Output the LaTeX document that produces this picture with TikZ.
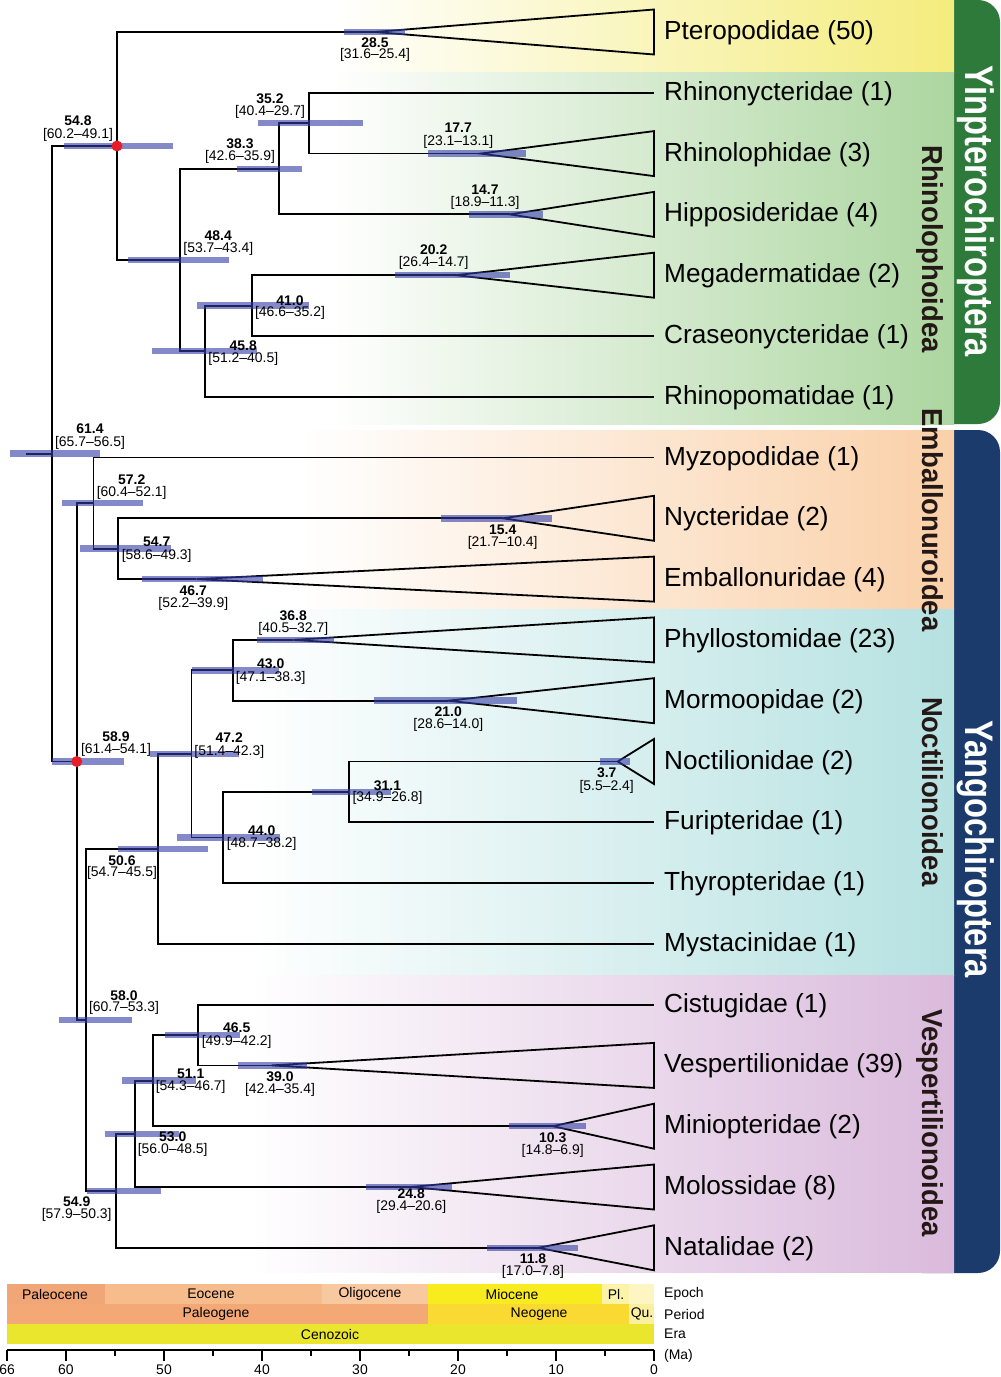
\documentclass[tikz,border=0pt]{standalone}
\usepackage{fontspec}
\setmainfont{Liberation Sans}
\usetikzlibrary{calc}
\definecolor{barblue}{RGB}{50,60,165}
\definecolor{dotred}{RGB}{230,30,40}
\definecolor{bandyellow}{RGB}{244,236,124}
\definecolor{bandgreen}{RGB}{172,214,160}
\definecolor{bandorange}{RGB}{250,208,168}
\definecolor{bandcyan}{RGB}{182,225,225}
\definecolor{bandpink}{RGB}{218,186,220}
\definecolor{tabgreen}{RGB}{45,122,58}
\definecolor{tabblue}{RGB}{27,59,108}
\definecolor{grptext}{RGB}{35,24,21}
\definecolor{cPaleocene}{RGB}{241,166,120}
\definecolor{cEocene}{RGB}{246,188,140}
\definecolor{cOligocene}{RGB}{248,200,160}
\definecolor{cMiocene}{RGB}{249,236,30}
\definecolor{cPliocene}{RGB}{251,243,168}
\definecolor{cPleist}{RGB}{253,246,195}
\definecolor{cPaleogene}{RGB}{244,168,118}
\definecolor{cNeogene}{RGB}{250,218,50}
\definecolor{cQuat}{RGB}{251,240,160}
\definecolor{cCeno}{RGB}{234,230,45}
\tikzset{
  branch/.style={line width=1.8bp, line join=miter},
  hpdbar/.style={line width=6.5bp, draw=barblue, draw opacity=0.6},
  agenum/.style={font=\fontsize{14}{16}\selectfont\bfseries, anchor=base, inner sep=0},
  agerng/.style={font=\fontsize{14}{16}\selectfont, anchor=base, inner sep=0},
  leaf/.style={font=\fontsize{26.3}{30}\selectfont, anchor=base west, inner sep=0},
  grp/.style={font=\fontsize{29}{34}\selectfont\bfseries, text=grptext, rotate=-90, anchor=base, inner sep=0},
  tablab/.style={font=\fontsize{40}{46}\selectfont\bfseries, text=white, rotate=-90, anchor=base, inner sep=0},
  tsl/.style={font=\fontsize{14}{16}\selectfont, inner sep=0},
  tsr/.style={font=\fontsize{14}{16}\selectfont, inner sep=0, anchor=west},
  reddot/.style={circle, fill=dotred, minimum size=11bp, inner sep=0},
  tick/.style={line width=2.5bp}
}
\begin{document}
\begin{tikzpicture}[x=1bp,y=-1bp]
\useasboundingbox (0,0) rectangle (1000,1377);
% side tabs
\fill[tabgreen, rounded corners=22bp] (900,0) rectangle (1000,424);
\fill[tabblue, rounded corners=22bp] (900,430) rectangle (1000,1273);
% coloured bands
\shade[left color=white, right color=bandyellow] (330,0) rectangle (954,72.7);
\shade[left color=white, right color=bandgreen] (330,72.7) rectangle (954,424);
\shade[left color=white, right color=bandorange] (300,430) rectangle (954,609.5);
\shade[left color=white, right color=bandcyan] (250,609.5) rectangle (954,975);
\shade[left color=white, right color=bandpink] (250,975) rectangle (954,1272);

% internal nodes and clade tips
\foreach \n/\a/\y in {root/61.4/453.7, n548/54.8/146, n484/48.4/260, n383/38.3/168.8,
  n352/35.2/123.2, n458/45.8/351.2, n410/41.0/305.6, n589/58.9/761.5, n572/57.2/503.1,
  n547/54.7/548.7, n580/58.0/1019.9, n506/50.6/848.9, n472/47.2/753.9, n430/43.0/670.3,
  n440/44.0/837.5, n311/31.1/791.9, n549/54.9/1190.8, n530/53.0/1133.8, n511/51.1/1080.6,
  n465/46.5/1035,
  pter/28.5/32, rlop/17.7/153.6, hipp/14.7/214.4, mega/20.2/275.2, nyct/15.4/518.3,
  emba/46.7/579.1, phyl/36.8/639.9, morm/21.0/700.7, noct/3.7/761.5, vesp/39.0/1065.4,
  mini/10.3/1126.2, molo/24.8/1187, nata/11.8/1247.8,
  rnyc/0/92.8, cras/0/336, rpom/0/396.7, myzo/0/457.5, furi/0/822.3, thyr/0/883.1,
  myst/0/943.9, cist/0/1004.6}
  \coordinate (\n) at ({654-9.8*\a},\y);
\coordinate (rootstub) at (26,453.7);

% branches
\draw[branch] (rootstub) -- (root);
\foreach \p/\c in {root/n548, root/n589, n548/pter, n548/n484, n484/n383, n484/n458,
  n383/n352, n383/hipp, n352/rnyc, n352/rlop, n458/n410, n458/rpom, n410/mega, n410/cras,
  n589/n572, n589/n580, n572/myzo, n572/n547, n547/nyct, n547/emba, n580/n506, n580/n549,
  n506/n472, n506/myst, n472/n430, n472/n440, n430/phyl, n430/morm, n440/n311, n440/thyr,
  n311/noct, n311/furi, n549/n530, n549/nata, n530/n511, n530/molo, n511/n465, n511/mini,
  n465/cist, n465/vesp}
  \draw[branch] (\p) |- (\c);

% collapsed clades
\foreach \n/\y in {pter/32, rlop/153.6, hipp/214.4, mega/275.2, nyct/518.3, emba/579.1,
  phyl/639.9, morm/700.7, noct/761.5, vesp/1065.4, mini/1126.2, molo/1187, nata/1247.8}
  \draw[branch] (\n) -- (654,\y-22.5) -- (654,\y+22.5) -- cycle;

% HPD bars
\foreach \y/\lo/\hi in {453.7/65.7/56.5, 146/60.2/49.1, 260/53.7/43.4, 168.8/42.6/35.9,
  123.2/40.4/29.7, 351.2/51.2/40.5, 305.6/46.6/35.2, 32/31.6/25.4, 153.6/23.1/13.1,
  214.4/18.9/11.3, 275.2/26.4/14.7, 761.5/61.4/54.1, 503.1/60.4/52.1, 548.7/58.6/49.3,
  518.3/21.7/10.4, 579.1/52.2/39.9, 1019.9/60.7/53.3, 848.9/54.7/45.5, 753.9/51.4/42.3,
  670.3/47.1/38.3, 639.9/40.5/32.7, 700.7/28.6/14.0, 837.5/48.7/38.2, 791.9/34.9/26.8,
  761.5/5.5/2.4, 1190.8/57.9/50.3, 1133.8/56.0/48.5, 1080.6/54.3/46.7, 1035/49.9/42.2,
  1065.4/42.4/35.4, 1126.2/14.8/6.9, 1187/29.4/20.6, 1247.8/17.0/7.8}
  \draw[hpdbar] ({654-9.8*\lo},\y) -- ({654-9.8*\hi},\y);

% calibration points
\node[reddot] (d548) at (n548) {};
\node[reddot] (d589) at (n589) {};

% age labels
\foreach \n/\x/\ya/\yb/\a/\r in {
  n548/78/121/133.5/54.8/60.2–49.1, pter/375/42.5/54/28.5/31.6–25.4,
  n352/270/98.3/111/35.2/40.4–29.7, n383/240/144/156/38.3/42.6–35.9,
  n484/218.3/235.3/247.3/48.4/53.7–43.4, rlop/458.3/127.7/141/17.7/23.1–13.1,
  hipp/485/189.3/201.3/14.7/18.9–11.3, mega/433.7/249.3/261.7/20.2/26.4–14.7,
  n410/290/300/311.7/41.0/46.6–35.2, n458/243.3/345/357.3/45.8/51.2–40.5,
  root/90/428.3/441.7/61.4/65.7–56.5, n572/131.7/479/491/57.2/60.4–52.1,
  n547/156.7/541.7/554/54.7/58.6–49.3, emba/193.3/590/602.3/46.7/52.2–39.9,
  nyct/502.7/529.3/541/15.4/21.7–10.4, phyl/293.3/615/627.3/36.8/40.5–32.7,
  n430/270.7/663.3/676/43.0/47.1–38.3, n589/116/736.7/748.7/58.9/61.4–54.1,
  n472/229.3/737.3/750/47.2/51.4–42.3, n440/261.7/830/842.3/44.0/48.7–38.2,
  n506/122/860/871.7/50.6/54.7–45.5, morm/448.3/711.7/723.3/21.0/28.6–14.0,
  noct/606.7/772.3/785/3.7/5.5–2.4, n311/387.5/785/796.7/31.1/34.9–26.8,
  n580/124/995/1006.7/58.0/60.7–53.3, n465/236.7/1027.7/1040/46.5/49.9–42.2,
  vesp/280/1076/1088.3/39.0/42.4–35.4, n511/190.7/1073.3/1085.7/51.1/54.3–46.7,
  n530/172.7/1136/1148.3/53.0/56.0–48.5, n549/76.7/1201.7/1213.3/54.9/57.9–50.3,
  mini/552.7/1137.3/1149.3/10.3/14.8–6.9, molo/411.3/1193.3/1205/24.8/29.4–20.6,
  nata/533/1258.3/1270/11.8/17.0–7.8}
{
  \node[agenum] (age\n) at (\x,\ya+5) {\a};
  \node[agerng] (rng\n) at (\x,\yb+5) {[\r]};
}

% leaf labels
\foreach \n/\y/\t in {pter/32/Pteropodidae (50), rnyc/92.8/Rhinonycteridae (1),
  rlop/153.6/Rhinolophidae (3), hipp/214.4/Hipposideridae (4), mega/275.2/Megadermatidae (2),
  cras/336/Craseonycteridae (1), rpom/396.7/Rhinopomatidae (1), myzo/457.5/Myzopodidae (1),
  nyct/518.3/Nycteridae (2), emba/579.1/Emballonuridae (4), phyl/639.9/Phyllostomidae (23),
  morm/700.7/Mormoopidae (2), noct/761.5/Noctilionidae (2), furi/822.3/Furipteridae (1),
  thyr/883.1/Thyropteridae (1), myst/943.9/Mystacinidae (1), cist/1004.6/Cistugidae (1),
  vesp/1065.4/Vespertilionidae (39), mini/1126.2/Miniopteridae (2), molo/1187/Molossidae (8),
  nata/1247.8/Natalidae (2)}
  \node[leaf] (lf\n) at (664,\y+7.5) {\t};

% group labels
\node[grp] (gRhin) at (922,249) {\scalebox{0.95}[1]{Rhinolophoidea}};
\node[grp] (gEmb) at (922,520) {\scalebox{0.95}[1]{Emballonuroidea}};
\node[grp] (gNoc) at (922,791.7) {\scalebox{0.95}[1]{Noctilionoidea}};
\node[grp] (gVes) at (922,1123) {\scalebox{0.95}[1]{Vespertilionoidea}};
\node[tablab] (tYin) at (965,211.5) {\scalebox{0.82}[1]{Yinpterochiroptera}};
\node[tablab] (tYan) at (965,849) {\scalebox{0.82}[1]{Yangochiroptera}};

% geological time scale
\fill[cPaleocene] (7.2,1284) rectangle (105.2,1304);
\fill[cEocene] (105.2,1284) rectangle (321.8,1304);
\fill[cOligocene] (321.8,1284) rectangle (428.3,1304);
\fill[cMiocene] (428.3,1284) rectangle (601.8,1304);
\fill[cPliocene] (601.8,1284) rectangle (628.7,1304);
\fill[cPleist] (628.7,1284) rectangle (654,1304);
\fill[cPaleogene] (7.2,1304) rectangle (428.3,1324);
\fill[cNeogene] (428.3,1304) rectangle (628.7,1324);
\fill[cQuat] (628.7,1304) rectangle (654,1324);
\fill[cCeno] (7.2,1324) rectangle (654,1344);
\node[tsl] (tPaleoc) at (55,1294) {Paleocene};
\node[tsl] (tEoc) at (211,1294) {Eocene};
\node[tsl] (tOlig) at (370,1294) {Oligocene};
\node[tsl] (tMio) at (512,1294) {Miocene};
\node[tsl] (tPl) at (616,1294) {Pl.};
\node[tsl] (tPaleog) at (216,1314) {Paleogene};
\node[tsl] (tNeog) at (539,1314) {Neogene};
\node[tsl] (tQu) at (642,1314) {Qu.};
\node[tsl] (tCeno) at (330,1334) {Cenozoic};
\node[tsr] (rEpoch) at (664,1294) {Epoch};
\node[tsr] (rPeriod) at (664,1314) {Period};
\node[tsr] (rEra) at (664,1334) {Era};
\node[tsr] (rMa) at (664,1356) {(Ma)};
% axis
\coordinate (ax0) at (7.2,1350);
\coordinate (ax1) at (654,1350);
\draw[line width=2.8bp] (ax0) -- (ax1);
\foreach \t in {66,60,50,40,30,20,10,0}{
  \draw[tick] ({654-9.8*\t},1350) -- ({654-9.8*\t},1361);
  \node[tsl, anchor=base] (tk\t) at ({654-9.8*\t},1374) {\t};
}
\foreach \t in {55,45,35,25,15,5}
  \draw[tick] ({654-9.8*\t},1350) -- ({654-9.8*\t},1356);
\end{tikzpicture}
\end{document}
